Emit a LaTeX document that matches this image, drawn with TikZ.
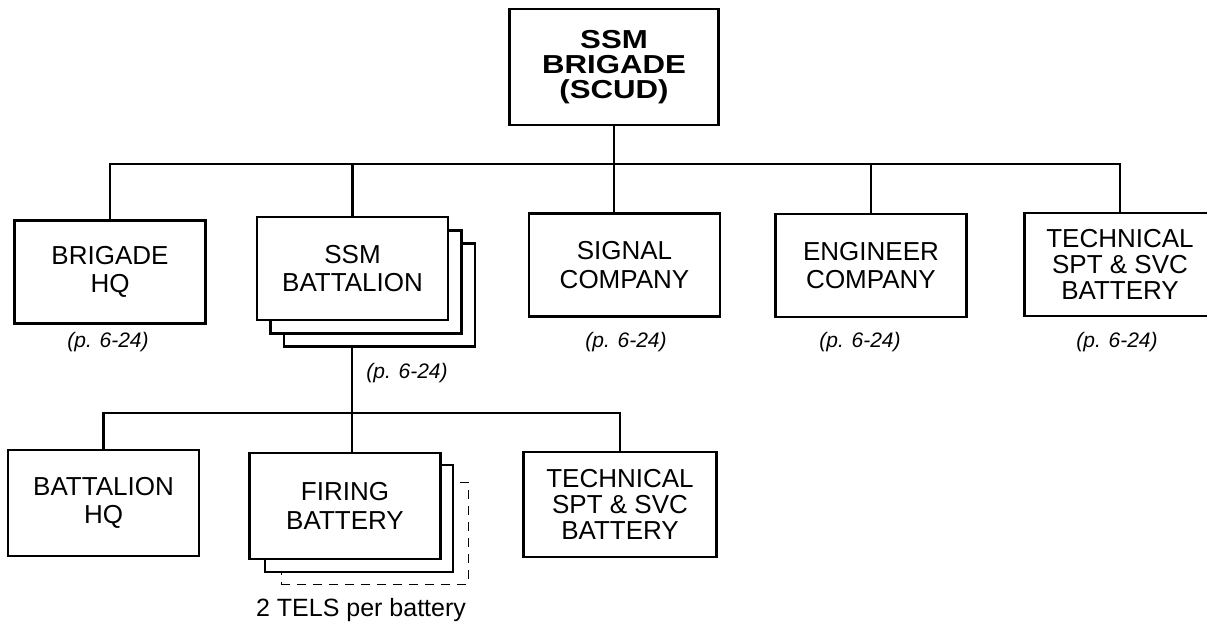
\documentclass[tikz,border=0pt]{standalone}
\usepackage{fontspec}
\setmainfont{Liberation Sans}
\newfontfamily\titlefont{Liberation Sans}[FakeStretch=1.2]
\usetikzlibrary{positioning}
\tikzset{
	unitbox/.style={draw, line width=2.2pt, fill=white, minimum width=191pt,
		minimum height=103pt, inner sep=0pt, align=center,
		font=\fontsize{26}{28.5}\selectfont},
	stackbox/.style={draw, line width=2.2pt, fill=white, minimum width=191pt,
		minimum height=103pt, inner sep=0pt},
	pagelbl/.style={font=\fontsize{21}{24}\selectfont\itshape, inner sep=0pt},
	orgline/.style={line width=2.2pt},
}

\begin{document}
\begin{tikzpicture}[x=1pt, y=-1pt]
	\useasboundingbox (0,0) rectangle (1207,624);

	\node[unitbox, minimum width=209pt, minimum height=116pt,
		font=\titlefont\bfseries\fontsize{26}{25}\selectfont] (brigade) at (614,67)
		{SSM\\BRIGADE\\(SCUD)};

	% second echelon
	\node[unitbox] (brigHQ) at (110,272) {BRIGADE\\HQ};
	\node[stackbox] (bnBack) at (379.5,295) {};
	\node[stackbox] (bnMid) at (366,282) {};
	\node[unitbox] (bnFront) at (352.5,268.5) {SSM\\BATTALION};
	\node[unitbox] (signal) at (624.5,265) {SIGNAL\\COMPANY};
	\node[unitbox] (engineer) at (871,265.5) {ENGINEER\\COMPANY};
	\node[unitbox, font=\fontsize{26}{26}\selectfont] (techBty) at (1120,264.5)
		{TECHNICAL\\SPT \& SVC\\BATTERY};

	\coordinate (bus1) at (614,164);
	\draw[orgline] (brigade) -- (bus1);
	\draw[orgline] (brigHQ.north) |- (bus1) -| (techBty.north);
	\draw[orgline] (bnFront.north) -- (bnFront.north |- bus1);
	\draw[orgline] (signal.north -| bus1) -- (bus1);
	\draw[orgline] (engineer.north) -- (engineer.north |- bus1);

	\node[pagelbl] (pgHQ) at (108,342) {(p. 6-24)};
	\node[pagelbl] (pgBn) at (407,373) {(p. 6-24)};
	\node[pagelbl] (pgSig) at (626,342) {(p. 6-24)};
	\node[pagelbl] (pgEng) at (860,342) {(p. 6-24)};
	\node[pagelbl] (pgTech) at (1117,342) {(p. 6-24)};

	% battalion echelon
	\node[stackbox, dash pattern=on 9pt off 7pt, line width=1pt,
		minimum width=187pt, minimum height=102pt] (fireDash) at (374.5,533) {};
	\node[stackbox, minimum width=188pt, minimum height=107pt] (fireMid) at (359,518.5) {};
	\node[unitbox, minimum height=106pt] (fireFront) at (345,506) {FIRING\\BATTERY};
	\node[unitbox, minimum height=106pt] (bnHQ) at (103.5,503) {BATTALION\\HQ};
	\node[unitbox, minimum width=193pt, minimum height=105pt,
		font=\fontsize{26}{26}\selectfont] (techBn) at (620,504.5)
		{TECHNICAL\\SPT \& SVC\\BATTERY};

	\coordinate (bus2) at (352,413);
	\draw[orgline] (bnBack.south -| bus2) -- (fireFront.north -| bus2);
	\draw[orgline] (bnHQ.north) |- (bus2) -| (techBn.north);

	\node[font=\fontsize{25}{28}\selectfont, inner sep=0pt] (telsNote) at (361,610)
		{2 TELS per battery};
\end{tikzpicture}
\end{document}
